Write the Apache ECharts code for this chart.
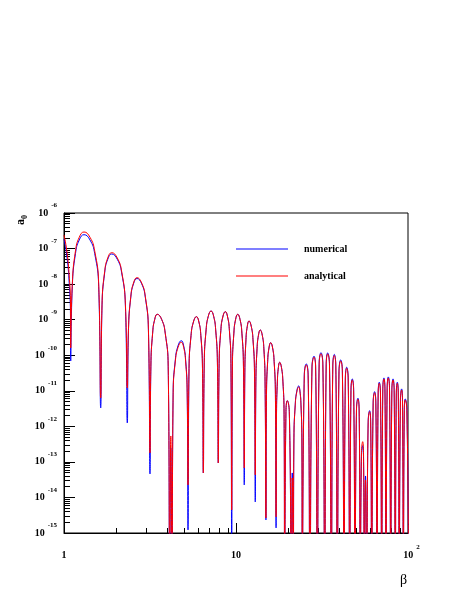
<!DOCTYPE html>
<html><head><meta charset="utf-8">
<script src="https://cdn.jsdelivr.net/npm/echarts@6/dist/echarts.min.js"></script>
<style>html,body{margin:0;padding:0;background:#fff}#c{width:463px;height:599px}</style>
</head><body><div id="c"></div>
<script>
// Readings from the picture, stored as log10 values (beta and a0)
const betaLog10 = [
0, 0.0157, 0.0291, 0.0378, 0.039,
0.0483, 0.0668, 0.0885, 0.1163, 0.1513, 0.1784, 0.2017, 0.2134,
0.2211, 0.2364, 0.2543, 0.2773, 0.3100, 0.3353, 0.3571, 0.368,
0.3748, 0.3883, 0.4041, 0.4244, 0.4516, 0.4728, 0.4909, 0.5,
0.5051, 0.5153, 0.5271, 0.5424, 0.5684, 0.5885, 0.6058, 0.6145, 0.621, 0.628,
0.6345, 0.6474, 0.6626, 0.682, 0.696, 0.707, 0.7163, 0.721,
0.7269, 0.7386, 0.7524, 0.770, 0.7844, 0.7956, 0.8052, 0.810,
0.8154, 0.8262, 0.8388, 0.855, 0.8701, 0.8819, 0.892, 0.897,
0.9019, 0.9118, 0.9232, 0.938, 0.9513, 0.9617, 0.9706, 0.975,
0.9792, 0.9876, 0.9974, 1.010, 1.0237, 1.0343, 1.0434, 1.048,
1.0513, 1.0579, 1.0657, 1.0756, 1.0887, 1.0989, 1.1076, 1.112,
1.1155, 1.1224, 1.1306, 1.141, 1.1529, 1.1621, 1.169, 1.174,
1.1773, 1.184, 1.1917, 1.2017, 1.213, 1.2217, 1.2292, 1.233,
1.2355, 1.2406, 1.2464, 1.254, 1.2644, 1.2726, 1.2795, 1.283,
1.2905, 1.298, 1.3098, 1.3215, 1.327, 1.333,
1.3368, 1.3443, 1.3532, 1.3645, 1.3721, 1.3779, 1.383, 1.3855,
1.3971, 1.4087, 1.4194, 1.43,
1.4418, 1.4535, 1.4631, 1.4727,
1.4834, 1.494, 1.5049, 1.5157,
1.5244, 1.533, 1.5435, 1.554,
1.5628, 1.5715, 1.5803, 1.589,
1.5989, 1.6087, 1.6184, 1.628,
1.6358, 1.6436, 1.6523, 1.661,
1.6685, 1.676, 1.684, 1.692,
1.7005, 1.709, 1.7159, 1.7227,
1.7297, 1.7366, 1.7413, 1.746,
1.753, 1.76,
1.7685, 1.777, 1.783, 1.789,
1.7975, 1.806, 1.813, 1.82,
1.8265, 1.833, 1.84, 1.847,
1.8535, 1.86, 1.866, 1.872,
1.8788, 1.8855, 1.8925, 1.8994,
1.9062, 1.913, 1.9195, 1.926,
1.932, 1.938, 1.9435, 1.949,
1.956, 1.963, 1.968, 1.973,
1.9785, 1.984, 1.9935, 2.003
];
const numericalLog10 = [
-6.731, -7.181, -7.884, -8.953, -10.162,
-8.07, -7.14, -6.76, -6.61, -6.76, -7.14, -8.07, -11.483,
-8.613, -7.683, -7.303, -7.153, -7.303, -7.683, -8.613, -11.905,
-9.302, -8.372, -7.992, -7.842, -7.992, -8.372, -9.302, -13.339,
-10.309, -9.379, -8.999, -8.849, -8.999, -9.379, -10.309, -16, -12.608, -16,
-11.051, -10.121, -9.741, -9.591, -9.741, -10.121, -11.051, -14.914,
-10.376, -9.446, -9.066, -8.916, -9.066, -9.446, -10.376, -13.311,
-10.216, -9.286, -8.906, -8.756, -8.906, -9.286, -10.216, -13.03,
-10.235, -9.305, -8.925, -8.775, -8.925, -9.305, -10.235, -16,
-10.309, -9.379, -8.999, -8.849, -8.999, -9.379, -10.309, -13.649,
-10.497, -9.567, -9.187, -9.037, -9.187, -9.567, -10.497, -14.127,
-10.75, -9.82, -9.44, -9.29, -9.44, -9.82, -10.75, -14.633,
-11.107, -10.177, -9.797, -9.647, -9.797, -10.177, -11.107, -14.858,
-11.658, -10.728, -10.348, -10.198, -10.348, -10.728, -11.658, -16,
-11.578, -11.278, -11.578, -16, -13.311, -16,
-12.323, -11.393, -11.013, -10.863, -11.013, -11.393, -12.323, -16,
-10.544, -10.244, -10.544, -16,
-10.328, -10.028, -10.328, -16,
-10.227, -9.927, -10.227, -16,
-10.235, -9.935, -10.235, -16,
-10.277, -9.977, -10.277, -16,
-10.432, -10.132, -10.432, -16,
-10.637, -10.337, -10.637, -16,
-10.966, -10.666, -10.966, -16,
-11.509, -11.209, -11.509, -16,
-12.844, -12.544, -12.844, -16,
-13.396, -16,
-11.857, -11.557, -11.857, -16,
-11.323, -11.023, -11.323, -16,
-11.059, -10.759, -11.059, -16,
-10.938, -10.638, -10.938, -16,
-10.91, -10.61, -10.91, -16,
-10.966, -10.666, -10.966, -16,
-11.059, -10.759, -11.059, -16,
-11.247, -10.947, -11.247, -16,
-11.528, -11.228, -11.528, -16
];
const analyticalLog10 = [
-6.619, -7.04, -7.687, -8.587, -9.796,
-7.994, -7.064, -6.684, -6.534, -6.684, -7.064, -7.994, -11.202,
-8.576, -7.646, -7.266, -7.116, -7.266, -7.646, -8.576, -10.921,
-9.279, -8.349, -7.969, -7.819, -7.969, -8.349, -9.279, -12.749,
-10.309, -9.379, -8.999, -8.849, -8.999, -9.379, -10.309, -16, -12.271, -16,
-11.096, -10.166, -9.786, -9.636, -9.786, -10.166, -11.096, -13.649,
-10.376, -9.446, -9.066, -8.916, -9.066, -9.446, -10.376, -13.311,
-10.216, -9.286, -8.906, -8.756, -8.906, -9.286, -10.216, -13.03,
-10.235, -9.305, -8.925, -8.775, -8.925, -9.305, -10.235, -14.352,
-10.309, -9.379, -8.999, -8.849, -8.999, -9.379, -10.309, -13.171,
-10.497, -9.567, -9.187, -9.037, -9.187, -9.567, -10.497, -13.368,
-10.75, -9.82, -9.44, -9.29, -9.44, -9.82, -10.75, -14.577,
-11.107, -10.177, -9.797, -9.647, -9.797, -10.177, -11.107, -14.549,
-11.658, -10.728, -10.348, -10.198, -10.348, -10.728, -11.658, -16,
-11.578, -11.278, -11.578, -16, -13.452, -16,
-12.353, -11.423, -11.043, -10.893, -11.043, -11.423, -12.353, -16,
-10.574, -10.274, -10.574, -16,
-10.358, -10.058, -10.358, -16,
-10.257, -9.957, -10.257, -16,
-10.265, -9.965, -10.265, -16,
-10.307, -10.007, -10.307, -16,
-10.462, -10.162, -10.462, -16,
-10.667, -10.367, -10.667, -16,
-10.996, -10.696, -10.996, -16,
-11.539, -11.239, -11.539, -16,
-12.731, -12.431, -12.731, -16,
-13.508, -16,
-11.887, -11.587, -11.887, -16,
-11.353, -11.053, -11.353, -16,
-11.089, -10.789, -11.089, -16,
-10.968, -10.668, -10.968, -16,
-10.94, -10.64, -10.94, -16,
-10.996, -10.696, -10.996, -16,
-11.089, -10.789, -11.089, -16,
-11.277, -10.977, -11.277, -16,
-11.558, -11.258, -11.558, -16
];
const seriesNames = ['numerical', 'analytical'];
const seriesColors = ['#0000ff', '#ff0000'];
const xRange = [1, 100];
const yRange = [1e-15, 1e-6];
const minorMultipliers = [2, 3, 4, 5, 6, 7, 8, 9];
const xDecades = [1, 10];
const yDecades = [1e-15, 1e-14, 1e-13, 1e-12, 1e-11, 1e-10, 1e-9, 1e-8, 1e-7];

const toData = ys => betaLog10.map((lb, i) => [Math.pow(10, lb), Math.pow(10, ys[i])]);
const xMinor = [], yMinor = [];
xDecades.forEach(d => minorMultipliers.forEach(m => xMinor.push(m * d)));
yDecades.forEach(d => minorMultipliers.forEach(m => yMinor.push(m * d)));

const FONT = 'Liberation Serif';
const rich = {
  b: {fontFamily: FONT, fontWeight: 'bold', fontSize: 10, color: '#000', lineHeight: 22, verticalAlign: 'middle'},
  bp: {fontFamily: FONT, fontWeight: 'bold', fontSize: 10, color: '#000', lineHeight: 22, verticalAlign: 'middle', padding: [0, 0, 0, 7]},
  e: {fontFamily: FONT, fontWeight: 'bold', fontSize: 7, color: '#000', lineHeight: 8, verticalAlign: 'top', padding: [0, 0, 0, 3]}
};
const expOf = v => Math.round(Math.log10(v));
const xFmt = v => { const e = expOf(v); if (e === 0) return '{b|1}'; if (e === 1) return '{b|10}'; return '{bp|10}{e|' + e + '}'; };
const yFmt = v => '{b|10}{e|' + expOf(v) + '}';

const chart = echarts.init(document.getElementById('c'), null, {renderer: 'canvas'});
chart.setOption({
  animation: false,
  backgroundColor: '#fff',
  grid: {left: 64, right: 55, top: 213, bottom: 66, show: true, borderColor: '#000', borderWidth: 1, backgroundColor: 'transparent'},
  legend: {
    data: seriesNames, orient: 'vertical', left: 231, top: 237, itemWidth: 52, itemHeight: 1, itemGap: 13,
    icon: 'rect', selectedMode: false,
    textStyle: {fontFamily: FONT, fontWeight: 'bold', fontSize: 10, color: '#000', lineHeight: 12, padding: [0, 0, 2, 11]}
  },
  xAxis: [{
    type: 'log', logBase: 10, min: xRange[0], max: xRange[1], interval: 1, position: 'bottom',
    name: 'β', nameLocation: 'end', nameGap: -1,
    nameTextStyle: {fontFamily: FONT, fontSize: 14, color: '#000', align: 'right', verticalAlign: 'top', padding: [40, 0, 0, 0]},
    axisLine: {show: true, lineStyle: {color: '#000', width: 1}},
    axisTick: {show: true, inside: true, length: 10, lineStyle: {color: '#000'}},
    axisLabel: {formatter: xFmt, rich: rich, margin: 11},
    splitLine: {show: false}
  }, {
    type: 'log', logBase: 10, min: xRange[0], max: xRange[1], position: 'bottom',
    axisLine: {show: false}, axisLabel: {show: false}, splitLine: {show: false},
    axisTick: {show: true, inside: true, length: 5, customValues: xMinor, lineStyle: {color: '#000'}}
  }],
  yAxis: [{
    type: 'log', logBase: 10, min: yRange[0], max: yRange[1], interval: 1, position: 'left',
    axisLine: {show: true, lineStyle: {color: '#000', width: 1}},
    axisTick: {show: true, inside: true, length: 11, lineStyle: {color: '#000'}},
    axisLabel: {formatter: yFmt, rich: rich, margin: 7},
    splitLine: {show: false}
  }, {
    type: 'log', logBase: 10, min: yRange[0], max: yRange[1], position: 'left',
    axisLine: {show: false}, axisLabel: {show: false}, splitLine: {show: false},
    axisTick: {show: true, inside: true, length: 6, customValues: yMinor, lineStyle: {color: '#000'}}
  }],
  graphic: [{
    type: 'text', x: 21, y: 225, rotation: Math.PI / 2,
    style: {
      text: '{a|a}{s|0}', align: 'left', verticalAlign: 'middle',
      rich: {
        a: {fontFamily: FONT, fontWeight: 'bold', fontSize: 12, fill: '#000', lineHeight: 16, verticalAlign: 'middle'},
        s: {fontFamily: FONT, fontWeight: 'bold', fontSize: 8, fill: '#000', lineHeight: 8, verticalAlign: 'bottom'}
      }
    }
  }],
  series: [
    {name: seriesNames[0], type: 'line', data: toData(numericalLog10), xAxisIndex: 0, yAxisIndex: 0,
     showSymbol: false, symbol: 'none', smooth: 0.5, clip: true, color: seriesColors[0], lineStyle: {width: 1, color: seriesColors[0]}},
    {name: seriesNames[1], type: 'line', data: toData(analyticalLog10), xAxisIndex: 0, yAxisIndex: 0,
     showSymbol: false, symbol: 'none', smooth: 0.5, clip: true, color: seriesColors[1], lineStyle: {width: 1, color: seriesColors[1]}}
  ]
});
</script>
</body></html>
